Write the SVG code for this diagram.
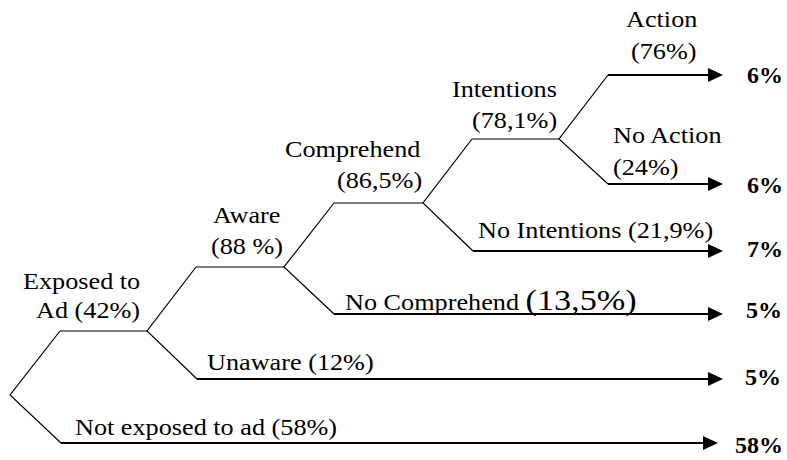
<svg xmlns="http://www.w3.org/2000/svg" width="787" height="460" viewBox="0 0 787 460">
<defs>
<marker id="ah" markerUnits="userSpaceOnUse" markerWidth="16" markerHeight="14" refX="0" refY="7" orient="auto">
<path d="M0,0 L15,7 L0,14 z" fill="#000"/>
</marker>
<style>
text{font-family:"Liberation Serif","Times New Roman",serif;fill:#000}
.t{font-size:23px}
.big{font-size:30px}
.b{font-size:24px;font-weight:bold}
.thin{fill:none;stroke:#000;stroke-width:1.2}
.arr{fill:none;stroke:#000;stroke-width:2;marker-end:url(#ah)}
</style>
</defs>
<rect width="787" height="460" fill="#fff"/>
<g id="connectors">
<path class="thin" d="M60,331 L10,395 L61,443"/>
<path class="thin" d="M60,331 H147"/>
<path class="thin" d="M196,267 L147,331 L197,379"/>
<path class="thin" d="M196,267 H284"/>
<path class="thin" d="M334,203 L284,267 L334,314"/>
<path class="thin" d="M334,203 H423"/>
<path class="thin" d="M472,139 L423,203 L473,251"/>
<path class="thin" d="M472,139 H559"/>
<path class="thin" d="M608,75 L559,139 L608,184"/>
<path class="arr" d="M608,75 H708"/>
<path class="arr" d="M608,184 H708"/>
<path class="arr" d="M473,251 H708"/>
<path class="arr" d="M334,314 H708"/>
<path class="arr" d="M197,379 H708"/>
<path class="arr" d="M61,443 H703"/>
</g>
<g id="exposed">
<text class="t" transform="translate(23,289) scale(1.14,1)">Exposed to</text>
<text class="t" transform="translate(36,318) scale(1.14,1)">Ad (42%)</text>
</g>
<g id="aware">
<text class="t" transform="translate(213,223) scale(1.14,1)">Aware</text>
<text class="t" transform="translate(211,254) scale(1.14,1)">(88 %)</text>
</g>
<g id="comprehend">
<text class="t" transform="translate(285,157) scale(1.14,1)">Comprehend</text>
<text class="t" transform="translate(337,188) scale(1.14,1)">(86,5%)</text>
</g>
<g id="intentions">
<text class="t" transform="translate(452,97) scale(1.14,1)">Intentions</text>
<text class="t" transform="translate(472,128) scale(1.14,1)">(78,1%)</text>
</g>
<g id="action">
<text class="t" transform="translate(626,27) scale(1.14,1)">Action</text>
<text class="t" transform="translate(631,59) scale(1.14,1)">(76%)</text>
<text class="b" x="747" y="83">6%</text>
</g>
<g id="no-action">
<text class="t" transform="translate(613,143) scale(1.14,1)">No Action</text>
<text class="t" transform="translate(613,175) scale(1.14,1)">(24%)</text>
<text class="b" x="747" y="193">6%</text>
</g>
<g id="no-intentions">
<text class="t" transform="translate(478,238) scale(1.14,1)">No Intentions (21,9%)</text>
<text class="b" x="747" y="257">7%</text>
</g>
<g id="no-comprehend">
<text class="t" transform="translate(345,310) scale(1.14,1)">No Comprehend <tspan class="big">(13,5%)</tspan></text>
<text class="b" x="746" y="318">5%</text>
</g>
<g id="unaware">
<text class="t" transform="translate(207,370) scale(1.14,1)">Unaware (12%)</text>
<text class="b" x="745" y="385">5%</text>
</g>
<g id="not-exposed">
<text class="t" transform="translate(75,435) scale(1.14,1)">Not exposed to ad (58%)</text>
<text class="b" x="735" y="453">58%</text>
</g>
</svg>
